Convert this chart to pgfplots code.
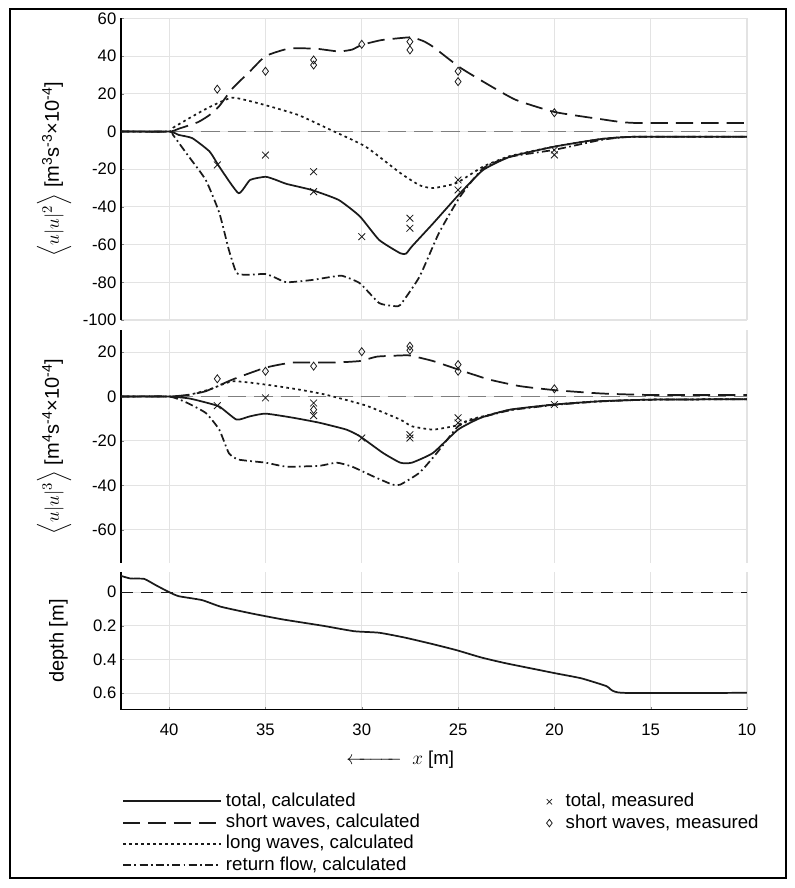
\documentclass[border=0pt]{standalone}
\usepackage{amsmath}
\usepackage{pgfplots}
\pgfplotsset{compat=1.18}
\usepackage{fontspec}
\setmainfont{Liberation Sans}

\definecolor{gridc}{HTML}{E3E3E3}
\definecolor{zeroc}{HTML}{7F7F7F}
\definecolor{curvec}{HTML}{1A1A1A}

\tikzset{legfont/.style={font=\fontsize{14}{16}\selectfont}}
\pgfplotsset{
  base/.style={scale only axis, width=469.5pt, xmin=10, xmax=42.5, x dir=reverse,
    xtick={10,15,20,25,30,35,40}, grid=major,
    major grid style={draw=gridc, line width=0.8pt},
    axis x line*=bottom, axis y line*=left,
    axis line style={line width=0.8pt},
    tick align=inside, major tick length=2.5pt,
    tick label style={font=\fontsize{12.5}{14}\selectfont},
    /pgf/number format/assume math mode=true,
    ylabel style={at={(axis description cs:-0.107,0.5)}, anchor=center, font=\fontsize{15}{18}\selectfont},
  },
  notx/.style={x axis line style={draw=none}, xticklabels={}, major x tick style={draw=none}},
  solidl/.style={curvec, line width=1.3pt},
  dashl/.style={curvec, line width=1.3pt, dash pattern=on 13pt off 6pt},
  dotl/.style={curvec, line width=1.3pt, dash pattern=on 2pt off 2.5pt},
  dashdotl/.style={curvec, line width=1.3pt, dash pattern=on 6pt off 2.5pt on 1.3pt off 2.5pt},
  crossm/.style={only marks, mark=x, mark size=3.6pt, mark options={curvec, line width=0.6pt, solid}},
  diamm/.style={only marks, mark=diamond, mark size=3pt, mark options={curvec, line width=0.6pt, solid}},
  zerol/.style={zeroc, line width=1.4pt, dash pattern=on 14pt off 6pt, forget plot},
}

\begin{document}
\begin{tikzpicture}
\path[use as bounding box] (-90.75pt,13.875pt) rectangle (504.75pt,-652.125pt);

% ---------------- top panel ----------------
\begin{axis}[base, notx, at={(0pt,0pt)}, anchor=north west, height=226.1pt,
  ymin=-100, ymax=60, ytick={-100,-80,...,60},
  ylabel={$\Big\langle u|u|^2\Big\rangle$ [m\textsuperscript{3}s\textsuperscript{-3}×10\textsuperscript{-4}]}]
\addplot[zerol] coordinates {(42.5,0) (10,0)};
\addplot[dashl, smooth, tension=0.3] coordinates {(42.5,0) (40,0) (39.5,1.5) (38.5,5) (37.9,8.8) (37.4,13.5) (36.7,23) (35.8,32) (35,40) (33.8,44) (32.4,44) (31.2,42.5) (30.5,43.5) (30,46) (29,48.5) (28,49.6) (27.4,50) (26.8,48) (26.3,45) (24.9,34) (23.4,24.7) (22,16.8) (20,10.4) (17.6,6.6) (15.9,4.6) (10,4.6)};
\addplot[dotl, smooth, tension=0.3] coordinates {(42.5,0) (40,0) (39.8,2) (38.8,8) (37.9,13) (36.7,18) (35,14) (33.3,8.8) (31.6,0.8) (29.8,-8) (28,-22) (27,-28.5) (26.3,-30) (25.1,-27.4) (23.7,-18.6) (22.3,-13) (20,-8) (17.6,-4) (15.9,-2.8) (10,-2.8)};
\addplot[dashdotl, smooth, tension=0.3] coordinates {(42.5,0) (40,0) (39.8,-1.8) (39,-13) (38.1,-25.7) (37.4,-43) (36.9,-62.8) (36.5,-75) (36,-76) (35,-75.6) (34.5,-77.5) (33.9,-80) (32.6,-78.8) (31.5,-77) (31,-76.6) (30.1,-80.5) (29.1,-91) (28.4,-92.5) (28,-92) (27,-77) (26,-54) (24.9,-34.6) (23.7,-19.5) (22.3,-13.4) (20,-9.7) (17.6,-4.5) (15.9,-2.8) (10,-2.8)};
\addplot[solidl, smooth, tension=0.3] coordinates {(42.5,0) (40,0) (39.5,-1.8) (38.8,-3.5) (37.9,-10.6) (37.4,-18.6) (36.4,-32.7) (35.8,-25.7) (35,-24) (34.5,-25.5) (33.9,-27.8) (32.6,-31) (31.2,-36.3) (30.1,-45) (29.1,-57.5) (28,-64.6) (27.7,-64.8) (27.4,-61) (26.3,-48.8) (24.9,-32.8) (23.7,-20.4) (22.3,-13.4) (20,-8) (17.6,-4) (15.9,-2.8) (10,-2.8)};
\addplot[crossm] coordinates {(37.5,-17.7) (35,-12.5) (32.5,-21.3) (32.5,-31.9) (30,-55.8) (27.5,-46) (27.5,-51.3) (25,-25.7) (25,-31) (20,-9.8) (20,-12.4)};
\addplot[diamm] coordinates {(37.5,22.5) (35,32) (32.5,38) (32.5,35.3) (30,46.3) (27.5,47.7) (27.5,43.3) (25,32) (25,26.5) (20,10)};
\end{axis}

% ---------------- middle panel ----------------
\begin{axis}[base, notx, at={(0pt,-233.6pt)}, anchor=north west, height=174.75pt,
  ymin=-75, ymax=30, ytick={-60,-40,-20,0,20},
  ylabel={$\Big\langle u|u|^3\Big\rangle$ [m\textsuperscript{4}s\textsuperscript{-4}×10\textsuperscript{-4}]},
  legend style={at={(axis description cs:0.675,-0.985)}, anchor=north west, draw=none, fill=none,
    inner sep=0pt, row sep=2.5pt,
    nodes={inner xsep=3pt, inner ysep=0pt, text height=10.5pt, text depth=3pt, legfont}},
  legend cell align=left,
  legend image code/.code={\path (-4pt,0pt) (9pt,0pt); \draw[#1, mark size=2.8pt] plot coordinates {(0pt,0pt)};}]
\addplot[zerol] coordinates {(42.5,0) (10,0)};
\addplot[dashl, smooth, tension=0.3, forget plot] coordinates {(42.5,0) (40,0) (39,0.8) (38.1,2.4) (36.7,7.7) (35,13) (33.6,15.3) (31.5,15.3) (30.1,16) (29.2,18) (28,18.5) (27.5,18.5) (26.3,16) (25,12.2) (23.4,7.7) (21.8,4.7) (20,2.9) (17.6,1.4) (15,0.7) (10,0.7)};
\addplot[dotl, smooth, tension=0.3, forget plot] coordinates {(42.5,0) (40,0) (39.1,0.5) (37.9,3.2) (36.7,6.9) (35,5.4) (33.3,3.2) (31.9,0.9) (29.8,-4) (28,-10.4) (27.4,-13.4) (26.3,-14.9) (25.1,-13.1) (24.4,-10.4) (23.5,-8.5) (22.3,-6) (20,-3.6) (17.6,-2.1) (15,-1.4) (10,-1.2)};
\addplot[dashdotl, smooth, tension=0.3, forget plot] coordinates {(42.5,0) (40,0) (39.1,-2.7) (38.1,-7.4) (37.4,-14.9) (36.9,-25.5) (36.4,-28.4) (35,-29.8) (33.9,-31.6) (32.2,-31.2) (31.3,-29.8) (30.5,-31.6) (29.4,-36) (28.4,-39.7) (28,-39.7) (27,-34.3) (26.1,-25.4) (25,-13.4) (24.2,-10.4) (22.3,-6.2) (20,-3.8) (17.6,-2.2) (15,-1.4) (10,-1.2)};
\addplot[solidl, smooth, tension=0.3, forget plot] coordinates {(42.5,0) (40,0) (39,-0.8) (38.4,-2) (37.4,-4.5) (36.5,-10.4) (35.8,-8.9) (35,-7.7) (33.6,-9.5) (32.2,-11.8) (30.8,-14.9) (30.1,-17.9) (28.9,-25.4) (28,-29.8) (27.4,-29.8) (26.3,-25.4) (25,-14.9) (23.8,-9.5) (22.3,-5.9) (20,-3.6) (17.6,-2.1) (15,-1.4) (10,-1.2)};
\addplot[crossm] coordinates {(37.5,-4.1) (35,-0.6) (32.5,-2.9) (32.5,-8.6) (30,-18.7) (27.5,-17.2) (27.5,-18.7) (25,-9.6) (25,-11.9) (20,-3.6)};
\addlegendentry{total, measured}
\addplot[diamm] coordinates {(37.5,8) (35,11.4) (32.5,13.7) (32.5,-5.9) (30,20.2) (27.5,22.7) (27.5,20.9) (25,14.4) (25,11.4) (20,3.5)};
\addlegendentry{short waves, measured}
\end{axis}

% ---------------- bottom panel ----------------
\begin{axis}[base, at={(0pt,-415.1pt)}, anchor=north west, height=103.5pt,
  ymin=-0.12, ymax=0.7, y dir=reverse, ytick={0,0.2,0.4,0.6},
  yticklabel style={/pgf/number format/.cd, fixed, precision=1},
  ylabel={depth [m]},
  ylabel style={at={(axis description cs:-0.1,0.5)}},
  xticklabel style={yshift=-7pt},
  xlabel={$\xleftarrow{\hspace{34pt}}$\; $x$ [m]},
  xlabel style={at={(axis description cs:0.446,-0.362)}, anchor=center, font=\fontsize{14}{16}\selectfont},
  legend style={at={(axis description cs:0.0016,-0.595)}, anchor=north west, draw=none, fill=none,
    inner sep=0pt, row sep=2.5pt,
    nodes={inner xsep=3pt, inner ysep=0pt, text height=10.5pt, text depth=3pt, legfont}},
  legend cell align=left,
  legend image code/.code={\path (0pt,0pt) -- (73.5pt,0pt); \draw[#1] (0pt,0pt) -- (66pt,0pt);}]
\addplot[curvec, line width=0.9pt, dash pattern=on 9pt off 6pt, forget plot] coordinates {(42.5,0) (10,0)};
\addplot[solidl, smooth, tension=0.3, forget plot] coordinates {(42.5,-0.097) (42,-0.081) (41.3,-0.079) (40.7,-0.042) (40,0) (39.5,0.024) (38.3,0.047) (37.3,0.087) (35.7,0.127) (34.1,0.162) (32,0.2) (30.4,0.232) (29.1,0.241) (27.8,0.269) (26.45,0.305) (25.1,0.344) (23.8,0.388) (22.5,0.423) (19.9,0.483) (18.6,0.512) (17.3,0.558) (16.5,0.598) (10,0.598)};
\addlegendimage{solidl}\addlegendentry{total, calculated}
\addlegendimage{dashl}\addlegendentry{short waves, calculated}
\addlegendimage{dotl}\addlegendentry{long waves, calculated}
\addlegendimage{dashdotl}\addlegendentry{return flow, calculated}
\end{axis}

\draw[line width=0.8pt] (-83.25pt,7.125pt) rectangle (498.75pt,-644.6pt);
\end{tikzpicture}
\end{document}
